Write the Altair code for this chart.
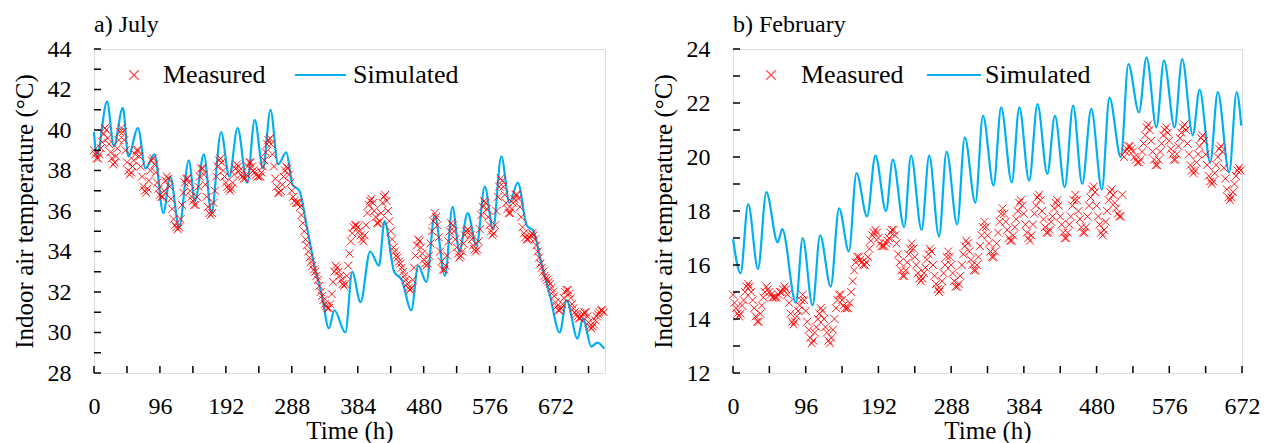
import altair as alt
import pandas as pd

FONT = "'Liberation Serif', 'Times New Roman', 'DejaVu Serif', serif"
RED = "#FF0000"
BLUE = "#00B0F0"

# ---------------- July (a) ----------------
# measured indoor air temperature, every 2 h (one row = one day)
july_measured = [
    39.0, 38.8, 38.6, 38.6, 38.8, 39.1, 39.4, 39.8, 40.1, 40.0, 39.6, 39.3,
    38.9, 38.6, 38.3, 38.4, 38.7, 39.1, 39.5, 39.9, 40.1, 39.9, 39.5, 39.0,
    38.4, 38.0, 37.8, 37.9, 38.2, 38.5, 38.8, 39.0, 39.0, 38.7, 38.2, 37.7,
    37.2, 37.0, 36.9, 37.1, 37.5, 38.0, 38.5, 38.6, 38.3, 37.9, 37.4, 37.1,
    36.8, 36.7, 36.7, 37.0, 37.5, 37.7, 37.6, 37.2, 36.6, 36.1, 35.6, 35.3,
    35.2, 35.1, 35.2, 35.6, 36.3, 36.9, 37.4, 37.6, 37.6, 37.4, 37.0, 36.7,
    36.5, 36.3, 36.3, 36.7, 37.2, 37.7, 38.1, 38.1, 37.8, 37.3, 36.7, 36.2,
    35.9, 35.8, 35.9, 36.4, 37.0, 37.7, 38.2, 38.5, 38.6, 38.4, 38.0, 37.7,
    37.4, 37.2, 37.1, 37.0, 37.1, 37.4, 37.8, 38.1, 38.3, 38.2, 38.0, 37.8,
    37.7, 37.6, 37.6, 37.8, 38.2, 38.4, 38.4, 38.2, 38.0, 37.9, 37.8, 37.7,
    37.7, 37.7, 37.9, 38.2, 38.5, 38.9, 39.3, 39.5, 39.6, 39.3, 38.8, 38.2,
    37.6, 37.2, 36.9, 36.9, 37.0, 37.3, 37.7, 38.0, 38.2, 38.1, 37.8, 37.4,
    37.0, 36.7, 36.5, 36.4, 36.4, 36.4, 36.2, 35.8, 35.4, 35.0, 34.6, 34.3,
    34.0, 33.7, 33.5, 33.3, 33.1, 33.0, 32.8, 32.6, 32.3, 32.0, 31.8, 31.6,
    31.4, 31.3, 31.2, 31.2, 31.4, 31.9, 32.5, 33.0, 33.3, 33.2, 33.0, 32.8,
    32.6, 32.4, 32.3, 32.4, 32.8, 33.3, 33.9, 34.5, 34.9, 35.2, 35.3, 35.3,
    35.2, 35.0, 34.8, 34.6, 34.5, 34.8, 35.3, 35.9, 36.3, 36.5, 36.6, 36.4,
    36.0, 35.7, 35.4, 35.4, 35.5, 35.9, 36.4, 36.7, 36.8, 36.5, 36.0, 35.5,
    35.0, 34.6, 34.2, 34.0, 33.8, 33.7, 33.5, 33.4, 33.2, 33.0, 32.8, 32.6,
    32.4, 32.2, 32.1, 32.2, 32.6, 33.2, 33.8, 34.3, 34.6, 34.5, 34.2, 33.9,
    33.6, 33.4, 33.3, 33.4, 33.8, 34.4, 35.0, 35.5, 35.9, 35.7, 35.3, 34.7,
    34.0, 33.5, 33.1, 33.1, 33.3, 33.8, 34.5, 35.0, 35.4, 35.3, 35.0, 34.6,
    34.2, 33.9, 33.7, 33.8, 34.0, 34.4, 34.8, 35.0, 35.1, 35.0, 34.8, 34.6,
    34.3, 34.1, 34.0, 34.1, 34.5, 35.1, 35.8, 36.2, 36.5, 36.4, 36.1, 35.7,
    35.3, 35.0, 34.8, 34.9, 35.3, 36.0, 36.7, 37.2, 37.6, 37.5, 37.2, 36.8,
    36.4, 36.1, 35.9, 35.9, 36.1, 36.4, 36.6, 36.8, 36.8, 36.6, 36.2, 35.7,
    35.2, 34.9, 34.7, 34.6, 34.6, 34.7, 34.8, 34.9, 34.8, 34.6, 34.3, 34.0,
    33.7, 33.4, 33.2, 33.0, 32.8, 32.7, 32.6, 32.5, 32.4, 32.2, 32.0, 31.8,
    31.5, 31.3, 31.1, 31.1, 31.2, 31.4, 31.7, 32.0, 32.1, 32.1, 31.9, 31.7,
    31.4, 31.2, 31.0, 30.9, 30.8, 30.7, 30.7, 30.8, 30.9, 31.0, 31.0, 30.8,
    30.5, 30.3, 30.2, 30.3, 30.4, 30.6, 30.8, 30.9, 31.0, 31.1, 31.1, 31.0,
]
# simulated: hours of turning points and their temperatures
july_sim_hours = [0, 4, 19, 29, 42, 50, 64, 75, 88, 101, 111, 124, 138, 147, 160, 171,
                  185, 197, 209, 223, 234, 246, 257, 268, 280, 289, 299, 310, 321, 332,
                  342, 350, 366, 376, 388, 402, 415, 423, 437, 448, 462, 472, 484, 496,
                  511, 522, 532, 544, 557, 569, 581, 593, 605, 617, 630, 640, 650, 664,
                  678, 688, 704, 712, 724, 733, 743]
july_sim_temp = [39.9, 38.7, 41.4, 39.2, 41.1, 38.7, 40.1, 38.1, 38.8, 35.9, 37.7, 35.2,
                 38.5, 36.5, 38.8, 35.9, 39.9, 37.7, 40.1, 37.4, 40.5, 38.1, 41.0, 38.3,
                 38.9, 37.3, 37.0, 35.2, 33.3, 31.8, 30.2, 31.1, 30.0, 33.0, 31.5, 34.0,
                 33.3, 35.5, 33.0, 32.6, 31.1, 33.3, 32.5, 35.8, 32.8, 36.2, 34.0, 35.9,
                 34.3, 37.2, 35.1, 38.7, 36.4, 37.4, 35.3, 35.0, 33.6, 31.8, 30.0, 31.6,
                 29.7, 30.7, 29.3, 29.5, 29.2]

# ---------------- February (b) ----------------
feb_measured = [
    14.9, 14.6, 14.4, 14.2, 14.1, 14.2, 14.5, 14.7, 15.0, 15.2, 15.3, 15.2,
    15.0, 14.7, 14.4, 14.1, 13.9, 13.9, 14.2, 14.5, 14.8, 15.0, 15.2, 15.1,
    15.0, 14.9, 14.8, 14.8, 14.8, 14.8, 14.9, 15.0, 15.0, 15.1, 15.2, 15.1,
    14.9, 14.6, 14.2, 13.9, 13.8, 13.9, 14.1, 14.3, 14.5, 14.7, 14.9, 14.7,
    14.3, 13.9, 13.6, 13.3, 13.1, 13.2, 13.5, 13.7, 14.0, 14.2, 14.4, 14.3,
    14.0, 13.7, 13.5, 13.2, 13.1, 13.3, 13.6, 14.0, 14.4, 14.7, 14.9, 14.9,
    14.7, 14.5, 14.4, 14.4, 14.4, 14.6, 15.0, 15.4, 15.8, 16.1, 16.3, 16.3,
    16.2, 16.1, 16.0, 16.0, 16.1, 16.3, 16.6, 16.9, 17.1, 17.2, 17.3, 17.2,
    17.0, 16.8, 16.7, 16.7, 16.7, 16.8, 16.9, 17.0, 17.2, 17.3, 17.3, 17.1,
    16.8, 16.4, 16.1, 15.8, 15.6, 15.6, 15.8, 16.1, 16.4, 16.6, 16.8, 16.6,
    16.3, 16.0, 15.7, 15.5, 15.4, 15.5, 15.7, 15.9, 16.2, 16.4, 16.6, 16.5,
    16.0, 15.6, 15.3, 15.1, 15.0, 15.1, 15.4, 15.7, 16.0, 16.3, 16.5, 16.3,
    16.0, 15.7, 15.4, 15.2, 15.2, 15.3, 15.6, 16.0, 16.4, 16.7, 16.9, 16.8,
    16.5, 16.2, 16.0, 15.8, 15.8, 16.0, 16.3, 16.7, 17.1, 17.4, 17.6, 17.4,
    17.1, 16.8, 16.5, 16.3, 16.3, 16.5, 16.8, 17.2, 17.6, 17.9, 18.1, 17.9,
    17.6, 17.3, 17.0, 16.9, 16.9, 17.1, 17.4, 17.7, 18.0, 18.3, 18.4, 18.2,
    17.9, 17.5, 17.2, 17.0, 16.9, 17.1, 17.5, 17.9, 18.2, 18.5, 18.6, 18.4,
    18.0, 17.7, 17.4, 17.2, 17.2, 17.3, 17.6, 17.8, 18.1, 18.3, 18.4, 18.2,
    17.8, 17.5, 17.2, 17.0, 17.0, 17.2, 17.5, 17.8, 18.2, 18.4, 18.6, 18.4,
    18.0, 17.7, 17.4, 17.2, 17.2, 17.4, 17.8, 18.2, 18.5, 18.8, 18.9, 18.7,
    18.2, 17.8, 17.5, 17.2, 17.1, 17.3, 17.6, 18.0, 18.4, 18.7, 18.8, 18.6,
    18.3, 18.1, 17.9, 17.8, 17.8, 18.6, 20.0, 20.2, 20.3, 20.4, 20.4, 20.3,
    20.2, 20.0, 19.9, 19.8, 19.8, 19.9, 20.2, 20.5, 20.8, 21.1, 21.2, 21.0,
    20.6, 20.2, 19.9, 19.7, 19.7, 19.9, 20.2, 20.5, 20.8, 21.0, 21.1, 20.9,
    20.6, 20.3, 20.1, 19.9, 19.9, 20.1, 20.4, 20.7, 20.9, 21.1, 21.2, 21.0,
    20.5, 20.1, 19.7, 19.5, 19.4, 19.5, 19.8, 20.1, 20.4, 20.7, 20.8, 20.6,
    20.1, 19.7, 19.3, 19.1, 19.0, 19.1, 19.4, 19.7, 20.0, 20.3, 20.4, 20.2,
    19.6, 19.2, 18.8, 18.5, 18.4, 18.5, 18.7, 19.0, 19.3, 19.5, 19.6, 19.5,
]
feb_sim_hours = [0, 10, 20, 33, 44, 59, 65, 83, 92, 105, 115, 129, 140, 153, 163, 177,
                 188, 202, 211, 226, 235, 249, 259, 272, 282, 296, 306, 320, 330, 344,
                 354, 368, 378, 391, 402, 415, 425, 438, 449, 461, 473, 487, 497, 512,
                 522, 536, 546, 559, 569, 583, 593, 607, 616, 630, 640, 655, 665, 671]
feb_sim_temp = [16.96, 15.7, 18.26, 15.85, 18.7, 16.84, 17.33, 14.6, 17.0, 14.5, 17.1,
                15.2, 18.1, 16.5, 19.4, 17.8, 20.05, 18.0, 19.9, 17.4, 20.05, 17.3,
                20.05, 17.05, 20.2, 17.5, 20.73, 18.3, 21.53, 18.94, 21.84, 19.06,
                21.84, 19.12, 21.96, 19.37, 21.53, 18.88, 21.9, 19.0, 21.78, 18.8,
                22.2, 19.99, 23.44, 21.65, 23.69, 21.1, 23.57, 21.1, 23.63, 20.8,
                22.5, 19.8, 22.4, 19.43, 22.4, 21.16]

# axis ticks and labels
july_x_labels = [0, 96, 192, 288, 384, 480, 576, 672]
july_x_ticks = [0, 48, 96, 144, 192, 240, 288, 336, 384, 432, 480, 528, 576, 624, 672, 720]
july_y_labels = [28, 30, 32, 34, 36, 38, 40, 42, 44]
july_y_ticks = [28, 29, 30, 31, 32, 33, 34, 35, 36, 37, 38, 39, 40, 41, 42, 43, 44]
feb_x_labels = [0, 96, 192, 288, 384, 480, 576, 672]
feb_x_ticks = [0, 48, 96, 144, 192, 240, 288, 336, 384, 432, 480, 528, 576, 624, 672]
feb_y_labels = [12, 14, 16, 18, 20, 22, 24]
feb_y_ticks = [12, 13, 14, 15, 16, 17, 18, 19, 20, 21, 22, 23, 24]

STEP = 2
H = 324
CROSS = "M-1,-1L1,1M-1,1L1,-1"


def panel(title, measured, sim_h, sim_t, xmax, ydom, xlabels, xticks, ylabels, yticks, width,
          lx):
    meas_df = pd.DataFrame({"h": [i * STEP for i in range(len(measured))], "t": measured})
    sim_df = pd.DataFrame({"h": sim_h, "t": sim_t})
    xt_df = pd.DataFrame({"h": xticks})
    yt_df = pd.DataFrame({"t": yticks})

    xs = alt.Scale(domain=[0, xmax], nice=False, zero=False)
    ys = alt.Scale(domain=ydom, nice=False, zero=False)
    x_axis = alt.Axis(values=xlabels, ticks=False, domain=False, grid=False,
                      labelFont=FONT, labelFontSize=24, labelColor="black", labelPadding=21,
                      labelFlush=False, title="Time (h)", titleFont=FONT, titleFontSize=25,
                      titleFontWeight="normal", titleColor="black", titlePadding=0)
    y_axis = alt.Axis(values=ylabels, ticks=False, domain=False, grid=False, format="d",
                      labelFont=FONT, labelFontSize=24, labelColor="black", labelPadding=23,
                      title="Indoor air temperature (°C)", titleFont=FONT, titleFontSize=25,
                      titleFontWeight="normal", titleColor="black", titlePadding=10)
    X = alt.X("h:Q", scale=xs, axis=x_axis)
    Y = alt.Y("t:Q", scale=ys, axis=y_axis)

    sim = alt.Chart(sim_df).mark_line(color=BLUE, strokeWidth=2.2,
                                      interpolate="monotone").encode(x=X, y=Y)
    meas = alt.Chart(meas_df).mark_point(shape=CROSS, size=64, filled=False, color=RED,
                                         strokeWidth=0.9, opacity=1).encode(x=X, y=Y)
    xt = alt.Chart(xt_df).mark_rule(color="black", strokeWidth=1.5).encode(
        x=X, y=alt.value(H), y2=alt.value(H - 7))
    yt = alt.Chart(yt_df).mark_rule(color="black", strokeWidth=1.5).encode(
        y=Y, x=alt.value(0), x2=alt.value(7))

    one = pd.DataFrame({"k": [0]})
    leg_cross = alt.Chart(one).mark_point(shape=CROSS, size=90, filled=False, color=RED,
                                          strokeWidth=1.2).encode(
        x=alt.value(lx[0]), y=alt.value(26))
    leg_t1 = alt.Chart(one).mark_text(text="Measured", align="left", baseline="middle",
                                      font=FONT, fontSize=26, color="black").encode(
        x=alt.value(lx[1]), y=alt.value(26))
    leg_line = alt.Chart(one).mark_rule(color=BLUE, strokeWidth=2.2).encode(
        x=alt.value(lx[2]), x2=alt.value(lx[3]), y=alt.value(26))
    leg_t2 = alt.Chart(one).mark_text(text="Simulated", align="left", baseline="middle",
                                      font=FONT, fontSize=26, color="black").encode(
        x=alt.value(lx[4]), y=alt.value(26))

    return alt.layer(sim, meas, xt, yt, leg_cross, leg_t1, leg_line, leg_t2).properties(
        width=width, height=H,
        title=alt.TitleParams(title, anchor="start", frame="group", font=FONT, fontSize=24,
                              fontWeight="normal", color="black", offset=0),
    )


left = panel("a) July", july_measured, july_sim_hours, july_sim_temp, 744, [28, 44],
             july_x_labels, july_x_ticks, july_y_labels, july_y_ticks, 511,
             [40, 69, 201, 252, 259])
right = panel("b) February", feb_measured, feb_sim_hours, feb_sim_temp, 672, [12, 24],
              feb_x_labels, feb_x_ticks, feb_y_labels, feb_y_ticks, 509,
              [38, 68, 194, 248, 252])

chart = alt.hconcat(left, right, spacing=40).properties(
    padding={"left": 11, "top": 12, "right": 0, "bottom": 0}
).configure_view(stroke="black", strokeWidth=1.5).configure(background="white")

chart.save("out.html", embed_options={"renderer": "svg", "actions": False})
